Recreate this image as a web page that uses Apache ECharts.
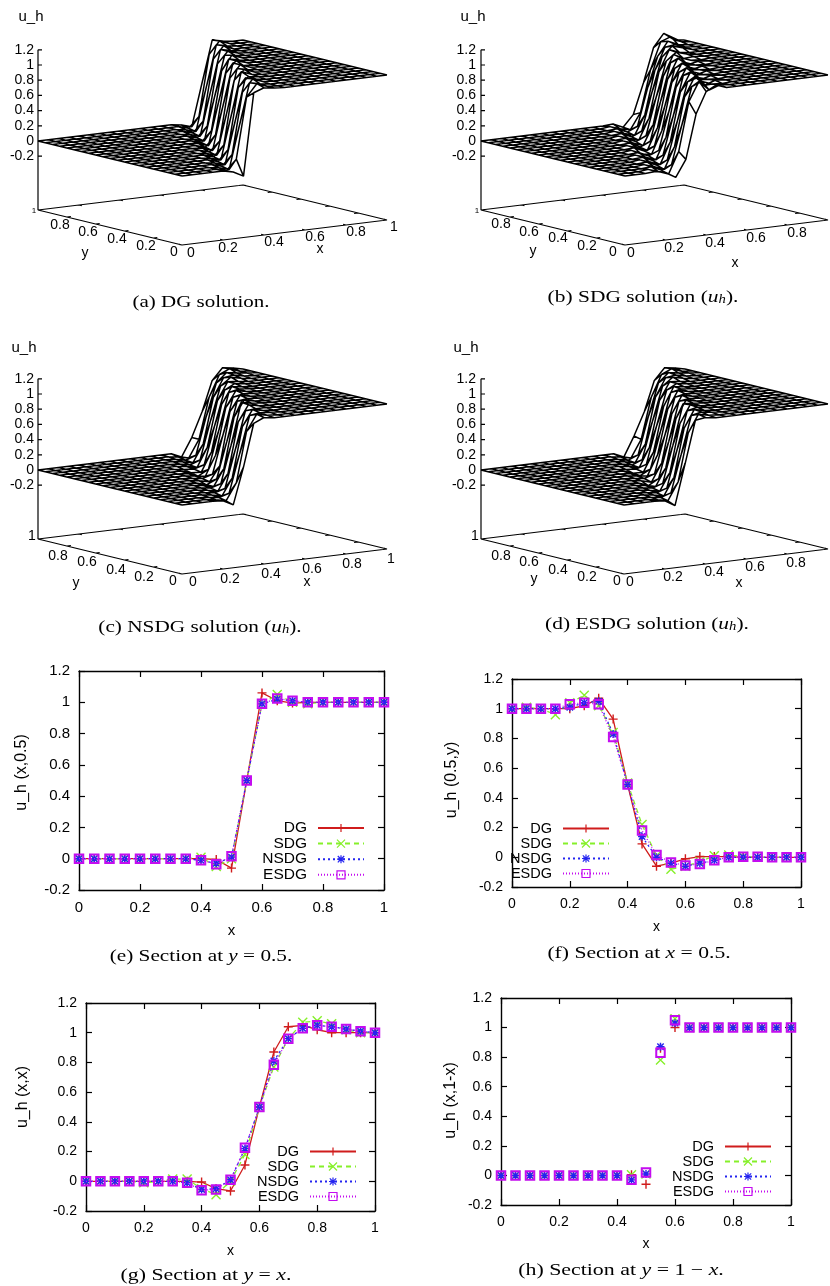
<!DOCTYPE html>
<html><head><meta charset="utf-8">
<style>html,body{margin:0;padding:0;background:#fff}#c{width:830px;height:1286px;filter:blur(.45px)}</style>
<script src="https://cdn.jsdelivr.net/npm/echarts@6/dist/echarts.min.js"></script>
</head><body><div id="c"></div>
<script>
// ---- section data (x nodes and u_h values) ----
const xs=[0,.05,.1,.15,.2,.25,.3,.35,.4,.45,.5,.55,.6,.65,.7,.75,.8,.85,.9,.95,1];
const seriesNames=['DG','SDG','NSDG','ESDG'];
const eDG=[0,0,0,0,0,0,0,0,0,-.005,-.06,.5,1.06,1.01,.995,1,1,1,1,1,1];
const eSDG=[0,0,0,0,0,0,0,0,.01,-.05,0,.5,.99,1.05,1,.99,1,1,1,1,1];
const eNSDG=[0,0,0,0,0,0,0,0,-.01,-.03,.01,.5,.99,1.02,1.01,1,1,1,1,1,1];
const eESDG=[0,0,0,0,0,0,0,0,-.01,-.035,.015,.5,.99,1.025,1.01,1,1,1,1,1,1];
const fDG=[1,1,1,1,1,1.02,1.07,.93,.49,.09,-.06,-.04,-.01,.005,.005,.005,0,0,0,0,0];
const fSDG=[1,1.01,1,.96,1.04,1.09,1.02,.84,.5,.22,.01,-.08,-.06,-.03,.01,.015,.005,0,0,0,0];
const fNSDG=[1,1,1,1,1.01,1.04,1.05,.83,.49,.14,0,-.04,-.06,-.04,-.02,0,0,0,0,0,0];
const fESDG=[1,1,1,1,1.03,1.04,1.03,.81,.49,.18,.015,-.035,-.055,-.045,-.02,0,.003,.003,0,0,0];
const gDG=[0,0,0,0,0,0,0,0,-.005,-.05,-.065,.11,.5,.87,1.04,1.05,1.02,1,1,1,1];
const gSDG=[0,0,0,0,-.01,0,.015,.015,-.05,-.09,0,.18,.5,.77,.96,1.07,1.08,1.06,1.02,1,1];
const gNSDG=[0,0,0,0,0,0,0,-.01,-.055,-.05,.01,.22,.5,.81,.96,1.03,1.05,1.04,1.025,1.01,1];
const gESDG=[0,0,0,0,0,0,0,-.01,-.06,-.055,.01,.225,.5,.785,.96,1.03,1.05,1.04,1.025,1.01,1];
const hDG=[0,0,0,0,0,0,0,0,0,.005,-.06,.86,1,1,1,1,1,1,1,1,1];
const hSDG=[0,0,0,0,0,0,0,0,0,.005,.01,.78,1.06,1,1,1,1,1,1,1,1];
const hNSDG=[0,0,0,0,0,0,0,0,0,-.03,.01,.87,1.03,1,1,1,1,1,1,1,1];
const hESDG=[0,0,0,0,0,0,0,0,0,-.03,.02,.83,1.05,1,1,1,1,1,1,1,1];
const xTicks=[0,.2,.4,.6,.8,1];
const zTicks=[-.2,0,.2,.4,.6,.8,1,1.2];

// ---- surface data: one row per y node (y=0,0.05,...,1); [first x index that differs from 0, values...]; 0 before, 1 after ----
const surfDG=[
[5,-.03,-.1,.98,1.03,1.01],[5,-.04,.1,.9,1.06,1.01],[5,-.02,-.06,.5,1.05,1.02],[6,-.04,.1,.9,1.06,1.01],
[6,-.02,-.06,.5,1.05,1.02],[7,-.04,.1,.9,1.03,1.01],[7,-.02,-.06,.5,1.07,1.02],[8,-.04,.1,.93,1.06,1.01],
[8,-.02,-.06,.49,1.05,1.02],[9,-.04,.09,.9,1.06,1.01],[9,-.01,-.06,.5,1.06,1.01],[10,-.04,.11,.9,1.05,1.01],
[10,-.01,-.06,.5,1.05,1.02],[11,-.04,.1,.87,1.06,1.01],[11,-.02,-.06,.5,1.04,1.02],[12,-.04,.1,.9,1.05,1.01],
[12,-.02,-.06,.5,1.05,1.02],[13,-.04,.1,.9,1.06,1],[13,-.02,-.06,.5,1.05,1.02],[14,-.04,.1,.9,1.06,1.01],
[14,-.02,-.06,.5,1.05,1.02]];
const surfSDG=[
[3,.01,-.02,-.1,.12,.7,.98,1.05,1],[3,.015,-.03,-.08,.2,.84,1.09,.96,1.01],[4,.01,-.05,.005,.5,1,1.05,1,.99],
[4,.015,-.03,-.08,.2,.84,1.09,.96,1.01],[5,.01,-.05,.005,.5,1,1.04,1,.99],[5,.015,-.03,-.08,.2,.84,1.09,.97,1.01],
[6,.01,-.05,.005,.5,1.02,1.05,1,.99],[6,.015,-.03,-.08,.2,.84,1.08,.97,1.01],[7,.01,-.05,.005,.5,1,1.05,1,.99],
[7,.015,-.05,-.07,.22,.84,1.08,.98,1.01],[8,.01,-.05,0,.5,.99,1.05,1,.99],[8,.015,-.03,-.08,.2,.82,1.08,.98,1.01],
[9,.01,-.06,0,.5,1,1.05,1,.99],[9,.015,-.03,-.08,.18,.8,1.07,1,1.01],[10,.01,-.05,.01,.5,.96,1.06,1.02,1],
[10,.015,-.03,-.07,.2,.8,1.07,1.02,1],[11,.01,-.05,.01,.5,.95,1.08,1.04,1],[11,.015,-.03,-.07,.18,.75,1.04,1.06,1.01],
[12,.01,-.05,.01,.5,.9,1.08,1.02,1],[12,.015,-.03,-.06,.15,.7,1.05,1.1,1.02],[13,.01,-.05,.1,.5,.95,1.12,1.02]];
const surfNSDG=[
[4,-.01,-.08,.4,.96,1.02],[4,-.02,-.05,.17,.83,1.04,1.01],[4,-.01,-.03,.01,.5,1,1.02,1.01],[5,-.02,-.05,.17,.83,1.04,1.01],
[5,-.01,-.03,.01,.5,1,1.01,1.01],[6,-.02,-.05,.17,.83,1.04,1.01],[6,-.01,-.03,.01,.5,1.05,1.02,1.01],[7,-.02,-.05,.17,.83,1.04,1.01],
[7,-.01,-.05,.01,.49,1,1.02,1.01],[8,-.02,-.05,.14,.84,1.04,1.01],[8,-.01,-.03,.01,.5,.99,1.02,1.01],[9,-.02,-.04,.22,.83,1.04,1.01],
[9,-.01,-.06,.01,.5,.99,1.02,1.01],[10,-.04,-.05,.2,.81,1.03,1.01],[10,-.02,-.03,.01,.5,.96,1.03,1.01],[11,-.02,-.05,.2,.8,1.03,1.02],
[11,-.01,-.04,.01,.5,.95,1.05,1.02],[12,-.02,-.05,.18,.78,1.02,1.04,1.01],[12,-.01,-.04,.01,.5,.93,1.05,1.025,1.01],[13,-.02,-.05,.18,.72,1,1.06,1.01],
[14,-.06,.18,.5,.9,1.05,1.03]];
const surfESDG=[
[4,-.01,-.09,.45,1,1.02],[4,-.02,-.05,.18,.81,1.04,1.01],[4,-.01,-.03,.015,.5,1,1.03,1.01],[5,-.02,-.05,.18,.81,1.04,1.01],
[5,-.01,-.03,.015,.5,1,1.03,1.01],[6,-.02,-.05,.18,.81,1.04,1.01],[6,-.01,-.03,.015,.5,1.03,1.02,1.01],[7,-.02,-.05,.18,.81,1.04,1.01],
[7,-.01,-.06,.015,.49,1,1.02,1.01],[8,-.02,-.055,.18,.81,1.04,1.01],[8,-.01,-.03,.015,.5,.99,1.02,1.01],[9,-.02,-.035,.225,.81,1.04,1.01],
[9,-.01,-.055,.015,.5,.99,1.02,1.01],[10,-.045,-.05,.2,.785,1.03,1.01],[10,-.02,-.03,.015,.5,.96,1.03,1.01],[11,-.02,-.05,.2,.8,1.03,1.02],
[11,-.01,-.04,.015,.5,.95,1.05,1.02],[12,-.02,-.05,.18,.78,1.02,1.04,1.01],[12,-.01,-.04,.015,.5,.93,1.05,1.025,1.01],[13,-.02,-.05,.18,.72,1,1.06,1.01],
[14,-.06,.2,.5,.9,1.05,1.03]];

// ---- layout ----
const SANS='"Liberation Sans"';
const surfPanels=[
 {surf:surfDG,box:[0,0,415,330],o:[182,176],ex:[205,-25],ey:[-144,-35],xT:xTicks,uh:[31,17],zR:34,one:[34,211,8],
  yL:[['0.8',60,225],['0.6',88,232],['0.4',117,239],['0.2',146,246],['0',174,252],['y',85,253]],
  xL:[['0',191,253],['0.2',228,248],['0.4',274,242],['0.6',315,237],['0.8',356,232],['1',394,227],['x',320,249]]},
 {surf:surfSDG,box:[415,0,415,330],o:[625,176],ex:[203,-25],ey:[-144,-35],xT:[0,.2,.4,.6,.8],uh:[473,17],zR:476,one:[477,211,8],
  yL:[['0.8',501,224],['0.6',529,232],['0.4',558,238],['0.2',587,246],['0',613,252],['y',533,251]],
  xL:[['0',631,253],['0.2',674,248],['0.4',715,243],['0.6',756,238],['0.8',797,233],['x',735,263]]},
 {surf:surfNSDG,box:[0,330,415,330],o:[182,505],ex:[205,-25],ey:[-144,-35],xT:xTicks,uh:[24,348],zR:34,one:[32,536,14],
  yL:[['0.8',58,556],['0.6',87,562],['0.4',116,570],['0.2',144,577],['0',173,581],['y',76,583]],
  xL:[['0',193,582],['0.2',230,579],['0.4',271,574],['0.6',312,569],['0.8',352,564],['1',391,559],['x',307,582]]},
 {surf:surfESDG,box:[415,330,415,330],o:[624,505],ex:[204,-25],ey:[-143,-35],xT:[0,.2,.4,.6,.8],uh:[466,348],zR:476,one:[475,536,14],
  yL:[['0.8',501,556],['0.6',529,562],['0.4',558,570],['0.2',587,577],['0',617,581],['y',534,579]],
  xL:[['0',630,582],['0.2',673,577],['0.4',714,572],['0.6',755,567],['0.8',796,563],['x',739,583]]}
];
const sectionPanels=[
 {vals:[eDG,eSDG,eNSDG,eESDG],rect:[79,671,305,219],fs:15,yName:'u_h (x,0.5)',xGap:33,yGap:49,yShift:16,lineEnd:365,legTop:827,legGap:-.4,lines:true},
 {vals:[fDG,fSDG,fNSDG,fESDG],rect:[512,679,289,208],fs:14,yName:'u_h (0.5,y)',xGap:33,yGap:52,yShift:6,lineEnd:610,legTop:828,legGap:0,lines:true},
 {vals:[gDG,gSDG,gNSDG,gESDG],rect:[86,1003,289,208],fs:14,yName:'u_h (x,x)',xGap:33,yGap:55,yShift:20,lineEnd:357,legTop:1151,legGap:0,lines:true},
 {vals:[hDG,hSDG,hNSDG,hESDG],rect:[501,998,290,207],fs:14,yName:'u_h (x,1-x)',xGap:32,yGap:42,yShift:2,lineEnd:772,legTop:1146,legGap:0,lines:false}
];
const captions=[
 ['{r|(a) DG solution.}',201,302,1.2],
 ['{r|(b) SDG solution (}{i|u}{s|h}{r|).}',643,297,1.225],
 ['{r|(c) NSDG solution (}{i|u}{s|h}{r|).}',200,627,1.215],
 ['{r|(d) ESDG solution (}{i|u}{s|h}{r|).}',647,624,1.225],
 ['{r|(e) Section at }{i|y}{r| = 0.5.}',201,956,1.215],
 ['{r|(f) Section at }{i|x}{r| = 0.5.}',639,953,1.235],
 ['{r|(g) Section at }{i|y}{r| = }{i|x}{r|.}',206,1275,1.245],
 ['{r|(h) Section at }{i|y}{r| = 1 − }{i|x}{r|.}',621,1270,1.25]
];
const seriesStyles=[
 {color:'#d01c1c',type:'solid',symbol:'path://M5 0V10M0 5H10',size:9},
 {color:'#86f02a',type:[5,4],symbol:'path://M0 0L10 10M0 10L10 0',size:9},
 {color:'#2424f0',type:[2,3],symbol:'path://M5 0V10M0 5H10M1 1L9 9M1 9L9 1',size:8},
 {color:'#c40cf0',type:[1,2],symbol:'rect',size:8.5}
];

// ---- build ----
const grid=[],xAxis=[],yAxis=[],series=[],legend=[],graphic=[];
const text=(t,x,y,fs,al)=>graphic.push({type:'text',x,y,silent:true,style:{text:t,fill:'#000',font:fs+'px '+SANS,
  fontSize:fs,fontFamily:'Liberation Sans',align:al||'center',verticalAlign:'middle',textAlign:al||'center',textVerticalAlign:'middle'}});
const BASE=-69/76;

surfPanels.forEach((p,pi)=>{
  const [l,t,w,h]=p.box;
  grid.push({left:l,top:t,width:w,height:h});
  xAxis.push({gridIndex:pi,type:'value',show:false,min:l,max:l+w});
  yAxis.push({gridIndex:pi,type:'value',show:false,min:t,max:t+h,inverse:true});
  const P=(x,y,z)=>[p.o[0]+x*p.ex[0]+y*p.ey[0],p.o[1]+x*p.ex[1]+y*p.ey[1]-76*z];
  const Z=p.surf.map(r=>{const a=[];for(let i=0;i<21;i++){const k=i-r[0]+1;a.push(i<r[0]?0:(k<r.length?r[k]:1));}return a;});
  const mesh=[];
  xs.forEach((y,j)=>{xs.forEach((x,i)=>mesh.push(P(x,y,Z[j][i])));mesh.push(['-','-']);});
  xs.forEach((x,i)=>{xs.forEach((y,j)=>mesh.push(P(x,y,Z[j][i])));mesh.push(['-','-']);});
  series.push({name:'surface '+pi,type:'line',xAxisIndex:pi,yAxisIndex:pi,data:mesh,symbol:'none',silent:true,animation:false,clip:false,
    lineStyle:{color:'#000',width:1.5},z:2});
  const f=[P(0,1,BASE),P(0,0,BASE),P(1,0,BASE),P(1,1,BASE),P(0,1,BASE),P(0,1,1.2),['-','-']];
  p.xT.concat([1]).forEach(x=>f.push(P(x,0,BASE),P(x,.02,BASE),['-','-'],P(x,1,BASE),P(x,.98,BASE),['-','-']));
  xTicks.forEach(y=>f.push(P(0,y,BASE),P(.02,y,BASE),['-','-'],P(1,y,BASE),P(.98,y,BASE),['-','-']));
  zTicks.forEach(z=>{const q=P(0,1,z);f.push(q,[q[0]+4,q[1]],['-','-']);});
  series.push({name:'frame '+pi,type:'line',xAxisIndex:pi,yAxisIndex:pi,data:f,symbol:'none',silent:true,animation:false,clip:false,
    lineStyle:{color:'#000',width:1.2},z:2});
  text('u_h',p.uh[0],p.uh[1],15);
  zTicks.forEach(z=>text(String(z),p.zR,P(0,1,z)[1],14,'right'));
  text('1',p.one[0],p.one[1],p.one[2]);
  p.yL.concat(p.xL).forEach(([s,x,y])=>text(s,x,y,14));
});

sectionPanels.forEach((p,k)=>{
  const gi=grid.length,[l,t,w,h]=p.rect;
  grid.push({left:l,top:t,width:w,height:h});
  const ax={type:'value',gridIndex:gi,
    axisLine:{show:true,onZero:false,lineStyle:{color:'#000',width:1.4}},
    axisTick:{show:true,inside:true,length:6,lineStyle:{color:'#000',width:1.2}},
    splitLine:{show:false}};
  const xi=xAxis.length,yi=yAxis.length;
  const lab={color:'#000',fontFamily:'Liberation Sans',fontSize:p.fs};
  xAxis.push(Object.assign({},ax,{min:0,max:1,interval:.2,position:'bottom',name:'x',nameLocation:'middle',nameGap:p.xGap,
      nameTextStyle:lab,axisLabel:Object.assign({margin:10},lab)}),
    Object.assign({},ax,{min:0,max:1,interval:.2,position:'top',axisLabel:{show:false}}));
  yAxis.push(Object.assign({},ax,{min:-.2,max:1.2,interval:.2,position:'left',name:p.yName,nameLocation:'middle',nameGap:p.yGap,
      nameTextStyle:Object.assign({},lab,{fontSize:16,padding:[0,0,0,p.yShift]}),axisLabel:Object.assign({margin:9},lab)}),
    Object.assign({},ax,{min:-.2,max:1.2,interval:.2,position:'right',axisLabel:{show:false}}));
  seriesNames.forEach((n,si)=>{
    const s=seriesStyles[si];
    series.push({name:n,type:'line',xAxisIndex:xi,yAxisIndex:yi,data:xs.map((x,i)=>[x,p.vals[si][i]]),
      symbol:s.symbol,symbolSize:s.size,showSymbol:true,showAllSymbol:true,animation:false,silent:true,z:3+si,
      lineStyle:{color:s.color,type:s.type,width:p.lines?1.3:0,opacity:p.lines?1:0},
      itemStyle:{color:'none',borderColor:s.color,borderWidth:si===3?2:1.4}});
  });
  legend.push({data:seriesNames,orient:'vertical',align:'right',right:830-p.lineEnd,top:p.legTop-7,padding:0,
    itemWidth:46,itemHeight:10,itemGap:p.legGap,selectedMode:false,itemStyle:{borderWidth:1.2},
    textStyle:{color:'#000',fontFamily:'Liberation Sans',fontSize:p.fs+.5,padding:[0,6,0,0]}});
});

captions.forEach(([t,x,y,sx])=>graphic.push({type:'text',x,y,scaleX:sx,silent:true,style:{text:t,fill:'#000',align:'center',verticalAlign:'middle',textAlign:'center',textVerticalAlign:'middle',
  rich:{r:{fontFamily:'Liberation Serif',fontSize:17.5,fill:'#000',color:'#000'},
        i:{fontFamily:'Liberation Serif',fontSize:17.5,fontStyle:'italic',fill:'#000',color:'#000'},
        s:{fontFamily:'Liberation Serif',fontSize:12,fontStyle:'italic',fill:'#000',color:'#000',verticalAlign:'bottom'}}}}));

const chart=echarts.init(document.getElementById('c'),null,{renderer:'canvas'});
chart.setOption({backgroundColor:'#fff',animation:false,tooltip:{show:false},grid,xAxis,yAxis,series,legend,graphic});
</script></body></html>
